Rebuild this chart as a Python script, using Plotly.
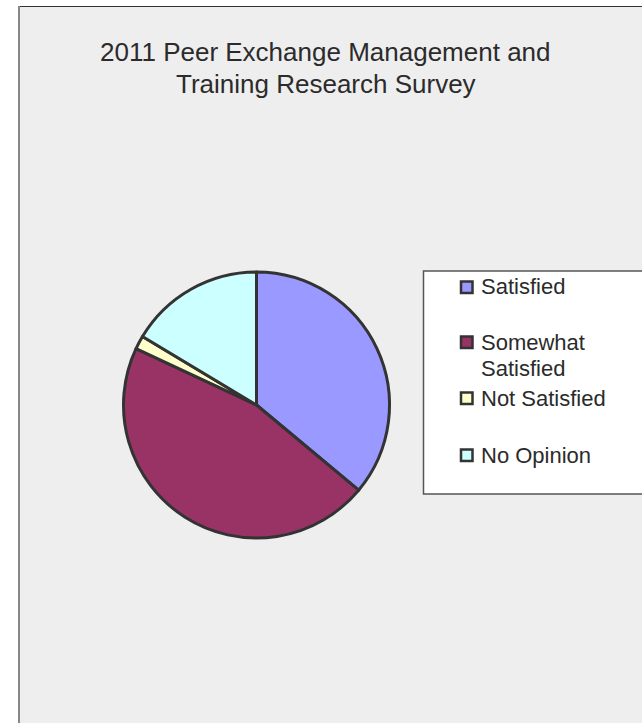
import plotly.graph_objects as go

# Survey responses
categories = ["Satisfied", "Somewhat Satisfied", "Not Satisfied", "No Opinion"]
responses = [22, 28, 1, 10]
slice_colors = ["#9999FF", "#993366", "#FFFFCC", "#CCFFFF"]
title_lines = ["2011 Peer Exchange Management and", "Training Research Survey"]
legend_lines = [["Satisfied"], ["Somewhat", "Satisfied"], ["Not Satisfied"], ["No Opinion"]]

W, H = 642, 723
FONT = "Liberation Sans, Arial, sans-serif"
TEXT = "#2B2B2B"


def px(x):
    return x / W


def py(y):
    return 1 - y / H


cx, cy, r = 256.5, 405, 133

fig = go.Figure()
fig.add_trace(go.Pie(
    labels=categories,
    values=responses,
    marker=dict(colors=slice_colors, line=dict(color="#333333", width=3)),
    sort=False,
    direction="clockwise",
    rotation=0,
    textinfo="none",
    showlegend=False,
    domain=dict(x=[px(cx - r), px(cx + r)], y=[py(cy + r), py(cy - r)]),
))

shapes = [
    # chart area
    dict(type="rect", xref="paper", yref="paper", layer="below",
         x0=px(18), x1=px(W + 20), y0=py(H + 20), y1=py(6),
         fillcolor="#EEEEEE", line=dict(width=0)),
    dict(type="line", xref="paper", yref="paper", layer="below",
         x0=px(18), x1=px(W + 20), y0=py(6.5), y1=py(6.5),
         line=dict(color="#333333", width=1.2)),
    dict(type="line", xref="paper", yref="paper", layer="below",
         x0=px(19), x1=px(19), y0=py(6), y1=py(H + 20),
         line=dict(color="#888888", width=2)),
    # legend box
    dict(type="rect", xref="paper", yref="paper", layer="below",
         x0=px(423.5), x1=px(W + 20), y0=py(494), y1=py(271),
         fillcolor="#FFFFFF", line=dict(color="#555555", width=1.5)),
]

annotations = []
legend_y = [287, 342, 398, 455]
for lines, color, y in zip(legend_lines, slice_colors, legend_y):
    shapes.append(dict(type="rect", xref="paper", yref="paper",
                       x0=px(461), x1=px(472.5), y0=py(y + 6), y1=py(y - 5.5),
                       fillcolor=color, line=dict(color="#333333", width=2.5)))
    for i, line in enumerate(lines):
        annotations.append(dict(text=line, xref="paper", yref="paper",
                                x=px(479), y=py(y + 26 * i), xanchor="left", yanchor="middle",
                                showarrow=False, font=dict(family=FONT, size=22, color=TEXT)))

for i, line in enumerate(title_lines):
    annotations.append(dict(text=line, xref="paper", yref="paper",
                            x=px(326), y=py(52 + 32 * i), xanchor="center", yanchor="middle",
                            showarrow=False, font=dict(family=FONT, size=26, color=TEXT)))

fig.update_layout(
    width=W, height=H,
    margin=dict(l=0, r=0, t=0, b=0),
    paper_bgcolor="#FFFFFF",
    plot_bgcolor="#FFFFFF",
    shapes=shapes,
    annotations=annotations,
)

fig.write_html("out.html")
